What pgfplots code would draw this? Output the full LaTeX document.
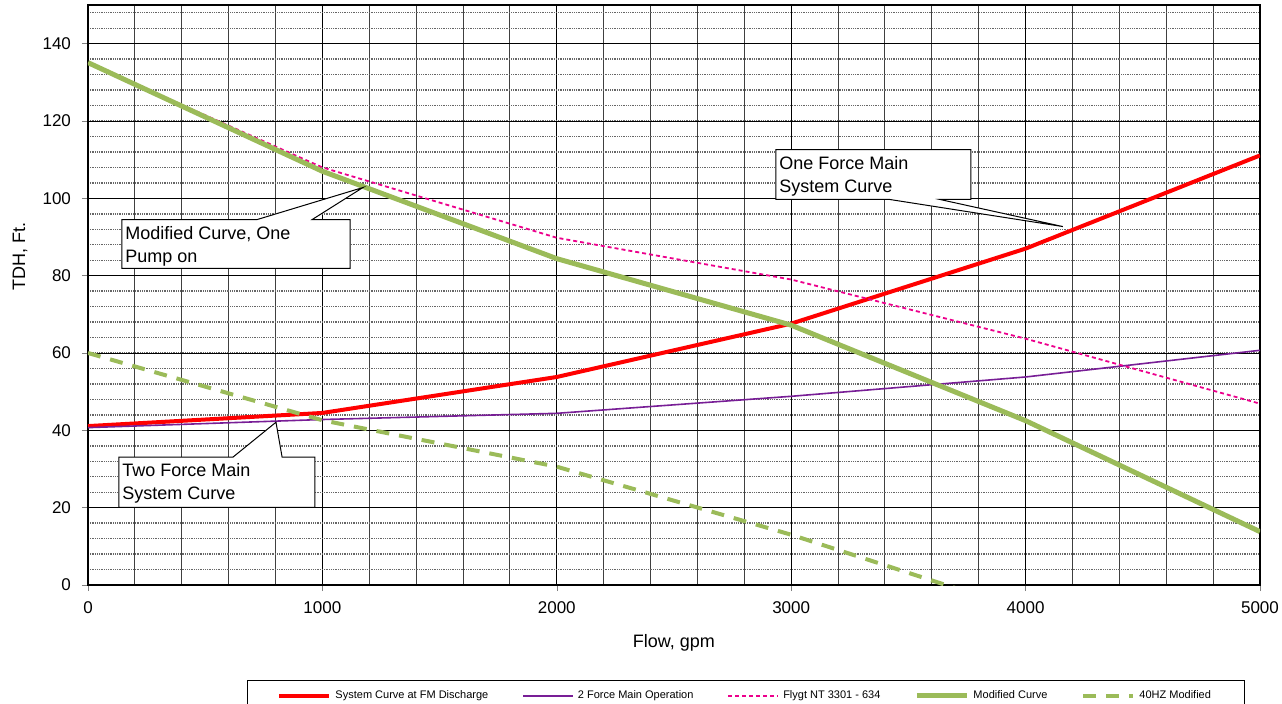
\documentclass[border=0pt]{standalone}
\usepackage{pgfplots}
\pgfplotsset{compat=1.18}
\usepackage{fontspec}
\setmainfont{Liberation Sans}
\definecolor{olivegreen}{RGB}{155,187,89}
\definecolor{mypurple}{RGB}{120,30,150}
\begin{document}
\begin{tikzpicture}
\begin{axis}[
  width=586pt, height=290pt, scale only axis,
  xmin=0, xmax=5000, ymin=0, ymax=150,
  xtick={0,1000,...,5000}, ytick={0,20,...,140},
  minor xtick={0,200,...,5000}, minor ytick={0,4,...,148},
  grid=both,
  major x grid style={black, line width=0.5pt},
  minor x grid style={black!75, line width=0.5pt},
  major y grid style={black, line width=0.5pt},
  minor y grid style={black!60, line width=0.7pt, dash pattern=on 0.5pt off 0.4pt},
  tick align=outside, tick pos=left,
  major tick length=3pt, minor tick length=0pt,
  axis line style={black, line width=0.6pt},
  /pgf/number format/assume math mode=true,
  /pgf/number format/1000 sep={},
  tick label style={font=\fontsize{8.5}{10}\selectfont},
  yticklabel style={xshift=-2pt},
  xticklabel style={yshift=-2pt},
  xlabel={Flow, gpm}, ylabel={TDH, Ft.},
  every axis x label/.style={at={(axis description cs:0.5,0)}, yshift=-29pt, anchor=center, font=\fontsize{9}{11}\selectfont},
  every axis y label/.style={at={(axis description cs:0,0.567)}, xshift=-34pt, rotate=90, anchor=center, font=\fontsize{9}{11}\selectfont},
  legend columns=5,
  legend cell align=left,
  legend style={at={(0,0)}, anchor=north west, xshift=79.5pt, yshift=-47.5pt,
    draw=black, line width=0.5pt, font=\fontsize{5.5}{6.5}\selectfont,
    inner xsep=15pt, inner ysep=3pt,
    /tikz/every even column/.append style={column sep=15pt}},
  legend image code/.code={\draw[#1] (0pt,0pt) -- (25pt,0pt);},
]
\addplot[red, line width=2pt] coordinates {(0,41.1)(1000,44.5)(2000,53.8)(3000,67.6)(4000,87.0)(5000,111.1)};
\addlegendentry{System Curve at FM Discharge}
\addplot[mypurple, line width=0.8pt] coordinates {(0,40.7)(1000,42.8)(2000,44.4)(3000,48.8)(4000,53.8)(5000,60.7)};
\addlegendentry{2 Force Main Operation}
\addplot[magenta, line width=0.9pt, dash pattern=on 2pt off 1.5pt] coordinates {(0,135)(1000,108)(2000,89.8)(3000,79)(4000,63.7)(5000,46.9)};
\addlegendentry{Flygt NT 3301 - 634}
\addplot[olivegreen, line width=2.5pt] coordinates {(0,135.1)(1000,107)(2000,84.4)(3000,67.2)(4000,42.5)(5000,13.8)};
\addlegendentry{Modified Curve}
\addplot[olivegreen, line width=2pt, dash pattern=on 6.5pt off 5pt] coordinates {(0,60)(1000,42.6)(2000,30.6)(3000,13)(4000,-6.7)};
\addlegendentry{40HZ Modified}
% callouts
\draw[fill=white, line width=0.5pt] (axis cs:145,94.5) -- (axis cs:721,94.5) -- (axis cs:1173,102.8) -- (axis cs:956,94.5) -- (axis cs:1118,94.5) -- (axis cs:1118,81.9) -- (axis cs:145,81.9) -- cycle;
\node[anchor=north west, align=left, inner xsep=1.5pt, inner ysep=3pt, font=\fontsize{9}{11.5}\selectfont] at (axis cs:145,94.5) {Modified Curve, One\\Pump on};
\draw[fill=white, line width=0.5pt] (axis cs:2935,112.6) -- (axis cs:3767,112.6) -- (axis cs:3767,99.7) -- (axis cs:3635,99.7) -- (axis cs:4159,92.7) -- (axis cs:3421,99.7) -- (axis cs:2935,99.7) -- cycle;
\node[anchor=north west, align=left, inner xsep=1.5pt, inner ysep=3pt, font=\fontsize{9}{11.5}\selectfont] at (axis cs:2935,112.6) {One Force Main\\System Curve};
\draw[fill=white, line width=0.5pt] (axis cs:132,33.1) -- (axis cs:619,33.1) -- (axis cs:802,42.1) -- (axis cs:828,33.1) -- (axis cs:968,33.1) -- (axis cs:968,20.1) -- (axis cs:132,20.1) -- cycle;
\node[anchor=north west, align=left, inner xsep=1.5pt, inner ysep=3pt, font=\fontsize{9}{11.5}\selectfont] at (axis cs:132,33.1) {Two Force Main\\System Curve};
\end{axis}
\pgfresetboundingbox
\path[use as bounding box] (-44pt,-59pt) rectangle (597pt,292.5pt);
\end{tikzpicture}
\end{document}
